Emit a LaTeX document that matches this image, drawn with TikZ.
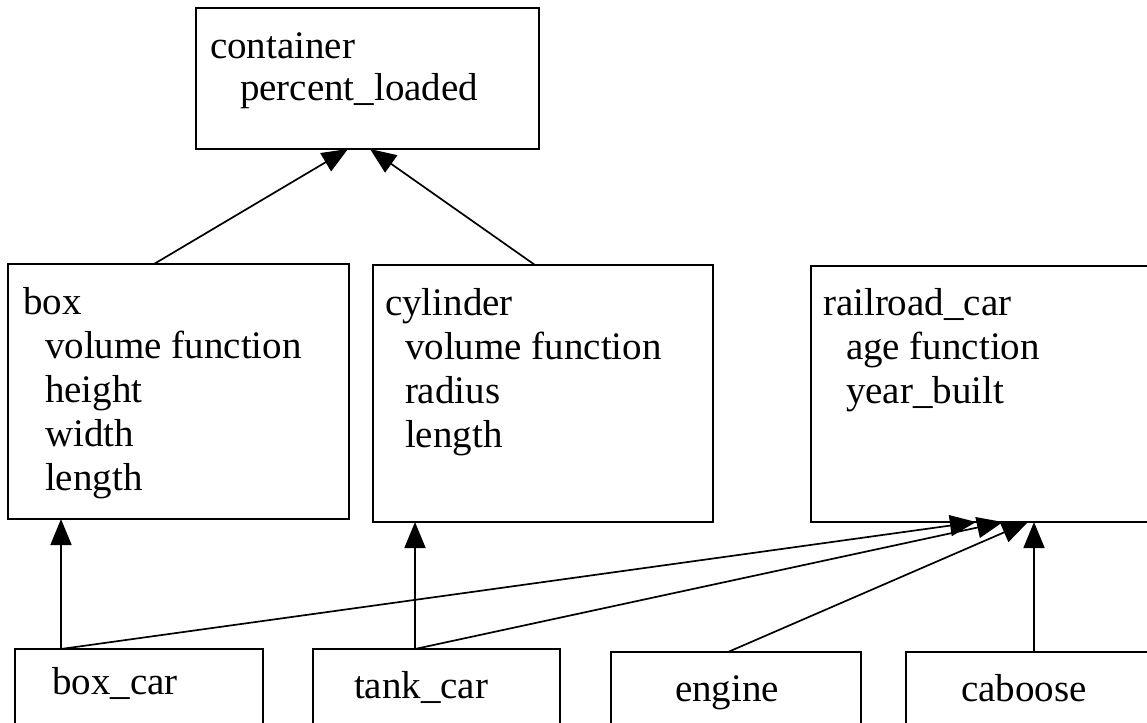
\documentclass[tikz,border=0pt]{standalone}
\usepackage{fontspec}
\setmainfont{Liberation Serif}
\usetikzlibrary{arrows.meta,calc}

\tikzset{
  cls/.style={draw=black, line width=1.7pt, fill=white, anchor=north west,
              inner sep=0pt, outer sep=0pt},
  txt/.style={anchor=base west, inner sep=0pt, outer sep=0pt,
              font=\fontsize{39}{44}\selectfont},
  isa/.style={draw=black, line width=1.7pt,
              -{Triangle[length=26pt,width=21pt]}}
}

\begin{document}
\begin{tikzpicture}[x=1pt,y=-1pt]
  \useasboundingbox (0,0) rectangle (1147,722);
  \clip (0,0) rectangle (1147,722);
  \fill[white] (0,0) rectangle (1147,722);

  % class boxes
  \node[cls, minimum width=343pt, minimum height=141pt] (container) at (196,8) {};
  \node[cls, minimum width=341pt, minimum height=255pt] (box) at (8,264) {};
  \node[cls, minimum width=340pt, minimum height=257pt] (cylinder) at (373,265) {};
  \node[cls, minimum width=400pt, minimum height=256pt] (railroad) at (811,266) {};
  \node[cls, minimum width=248pt, minimum height=110pt] (boxcar) at (15,649) {};
  \node[cls, minimum width=247pt, minimum height=110pt] (tankcar) at (313,649) {};
  \node[cls, minimum width=250pt, minimum height=110pt] (engine) at (611,652) {};
  \node[cls, minimum width=300pt, minimum height=110pt] (caboose) at (906,652) {};

  % class names and members
  \node[txt] (container-n) at (210,59) {container};
  \node[txt] (container-a) at (240,101) {percent\_loaded};

  \node[txt] (box-n)  at (23,314) {box};
  \node[txt] (box-a)  at (45,358) {volume function};
  \node[txt] (box-b)  at (45,402) {height};
  \node[txt] (box-c)  at (45,446) {width};
  \node[txt] (box-d)  at (45,490) {length};

  \node[txt] (cyl-n)  at (385,315) {cylinder};
  \node[txt] (cyl-a)  at (405,359) {volume function};
  \node[txt] (cyl-b)  at (405,403) {radius};
  \node[txt] (cyl-c)  at (405,447) {length};

  \node[txt] (rr-n)   at (823,315) {railroad\_car};
  \node[txt] (rr-a)   at (846,359) {age function};
  \node[txt] (rr-b)   at (846,403) {year\_built};

  \node[txt] (boxcar-n)  at (52,694) {box\_car};
  \node[txt] (tankcar-n) at (354,698) {tank\_car};
  \node[txt] (engine-n)  at (675,701) {engine};
  \node[txt] (caboose-n) at (961,701) {caboose};

  % inheritance connectors
  \draw[isa] ($(box.north west)+(146,0)$) -- ($(container.south west)+(152,0)$);
  \draw[isa] ($(cylinder.north west)+(162,0)$) -- ($(container.south west)+(174,0)$);

  \draw[isa] ($(boxcar.north west)+(46,0)$) -- ($(box.south west)+(53,0)$);
  \draw[isa] ($(tankcar.north west)+(102,0)$) -- ($(cylinder.south west)+(42,0)$);

  \draw[isa] ($(boxcar.north west)+(46,0)$) -- ($(railroad.south west)+(165,0)$);
  \draw[isa] ($(tankcar.north west)+(102,0)$) -- ($(railroad.south west)+(192,0)$);
  \draw[isa] ($(engine.north west)+(117,0)$) -- ($(railroad.south west)+(217,0)$);
  \draw[isa] ($(caboose.north west)+(128,0)$) -- ($(railroad.south west)+(223,0)$);
\end{tikzpicture}
\end{document}
